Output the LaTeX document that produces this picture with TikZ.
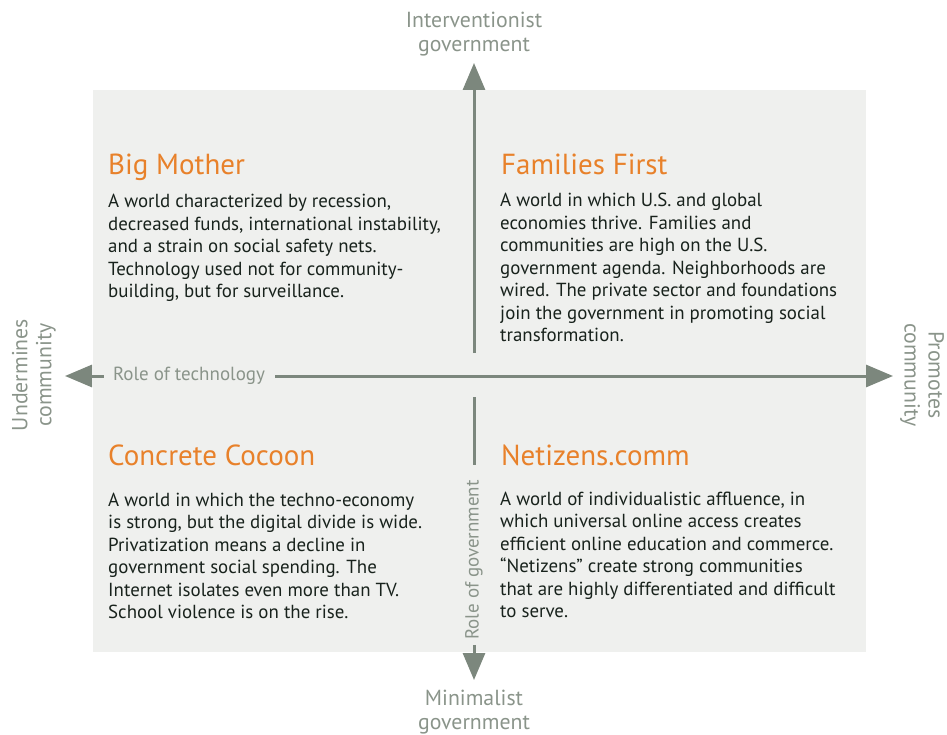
\documentclass[tikz,border=0pt]{standalone}
\usepackage{fontspec}
\setmainfont{PT Sans}
\usetikzlibrary{arrows.meta}
\definecolor{boxbg}{HTML}{EFF0EE}
\definecolor{axisc}{HTML}{7C877D}
\definecolor{labc}{HTML}{8A948A}
\definecolor{orng}{HTML}{E8812A}
\definecolor{bodyc}{HTML}{18221C}
\newcommand{\bodytext}[1]{\parbox[t]{380pt}{\fontsize{18.9}{22.5}\selectfont\raggedright #1}}
\tikzset{
 axis/.style={draw=axisc, line width=3pt},
 tipped/.style={-{Triangle[length=27pt,width=22pt]}},
 ttl/.style={anchor=base west, inner sep=0, text=orng, font=\fontsize{29}{32}\selectfont},
 body/.style={anchor=base west, inner sep=0, text=bodyc},
 pole/.style={inner sep=0, text=labc, align=center, font=\fontsize{21.8}{24}\selectfont},
 axlab/.style={inner sep=0, text=labc, font=\fontsize{19}{22}\selectfont},
}
\begin{document}
\begin{tikzpicture}[x=1pt,y=-1pt]
\useasboundingbox (0,0) rectangle (947,735);
\fill[boxbg] (93,90) rectangle (866,652);

% titles
\node[ttl] (bm) at (108,175) {Big Mother};
\node[ttl] (ff) at (501,175) {Families First};
\node[ttl] (cc) at (108,465) {Concrete Cocoon};
\node[ttl] (nc) at (501,465) {Netizens.comm};

% bodies
\node[body] (bmt) at (108,208) {\bodytext{A world characterized by recession,\\decreased funds, international instability,\\and a strain on social safety nets.\\Technology used not for community-\\building, but for surveillance.}};
\node[body] (fft) at (500,207) {\bodytext{A world in which U.S. and global\\economies thrive. Families and\\communities are high on the U.S.\\government agenda. Neighborhoods are\\wired. The private sector and foundations\\join the government in promoting social\\transformation.}};
\node[body] (cct) at (108,506) {\bodytext{A world in which the techno-economy\\is strong, but the digital divide is wide.\\Privatization means a decline in\\government social spending. The\\Internet isolates even more than TV.\\School violence is on the rise.}};
\node[body] (nct) at (500,505) {\bodytext{A world of individualistic affluence, in\\which universal online access creates\\efficient online education and commerce.\\“Netizens” create strong communities\\that are highly differentiated and difficult\\to serve.}};

% pole labels
\node[pole] (top) at (474,34) {Interventionist\\government};
\node[pole] (bot) at (474,712) {Minimalist\\government};
\node[pole, rotate=90] (lft) at (34,375) {Undermines\\community};
\node[pole, rotate=-90] (rgt) at (922,375) {Promotes\\community};

% axis labels
\node[axlab] (rt) at (189,376) {Role of technology};
\node[axlab, rotate=90] (rg) at (474,560) {Role of government};

% axis ends
\coordinate (tipL) at (65,376);
\coordinate (tipR) at (893,376);
\coordinate (tipT) at (474,63);
\coordinate (tipB) at (474,680);
\coordinate (vu) at (474,353);
\coordinate (vl) at (474,397);

\draw[axis, tipped] ([xshift=-9pt]rt.west) -- (tipL);
\draw[axis, tipped] ([xshift=10pt]rt.east) -- (tipR);
\draw[axis, tipped] (vu) -- (tipT);
\draw[axis] (vl) -- ([yshift=15pt]rg.east);
\draw[axis, tipped] ([yshift=-5pt]rg.west) -- (tipB);
\end{tikzpicture}
\end{document}
